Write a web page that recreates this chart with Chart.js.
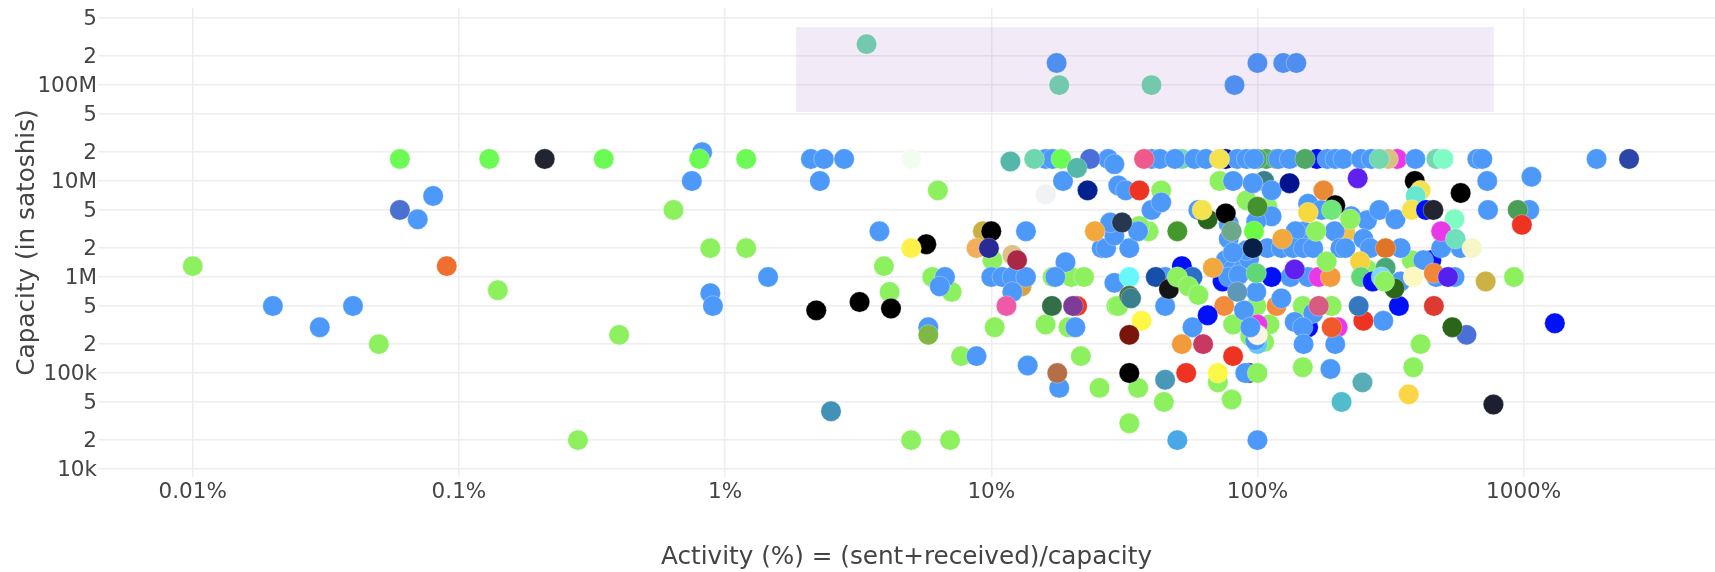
<!DOCTYPE html>
<html>
<head>
<meta charset="utf-8">
<title>Activity vs capacity</title>
<script src="https://cdn.jsdelivr.net/npm/chart.js@4/dist/chart.umd.min.js"></script>
<style>
  html, body { margin: 0; padding: 0; background: #fff; }
  canvas { display: block; }
</style>
</head>
<body>
<canvas id="chartCanais" width="1715" height="572"></canvas>
<script>
// ===== DATA =====
const xTickValues = [0.01, 0.1, 1, 10, 100, 1000];
const xTickLabels = ['0.01%', '0.1%', '1%', '10%', '100%', '1000%'];
const yTickValues = [1e4, 2e4, 5e4, 1e5, 2e5, 5e5, 1e6, 2e6, 5e6, 1e7, 2e7, 5e7, 1e8, 2e8, 5e8];
const yTickLabels = ['10k', '2', '5', '100k', '2', '5', '1M', '2', '5', '10M', '2', '5', '100M', '2', '5'];

const shadeActivity = [1.85, 773];
const shadeCapacity = [5.24e7, 4.02e8];

const greenActivity = [0.01, 0.14, 0.05, 0.28, 0.4, 0.64, 0.88, 1.2, 6.3, 3.95, 4.15, 6, 7.1, 10.1, 10.3, 7.7, 21.7, 25.5, 5, 7, 17, 20, 22.3, 16, 19.5, 29.5, 39, 36, 43.5, 72, 91, 109, 30, 81, 111, 94, 106, 99, 148, 190, 148, 71, 80, 35.6, 44.5, 33, 410, 385, 380, 920, 258];
const greenCapacity = [1.3e6, 7.3e5, 2e5, 2e4, 2.5e5, 5e6, 2e6, 2e6, 8e6, 1.3e6, 7e5, 1e6, 7e5, 1.5e6, 3e5, 1.5e5, 1.5e5, 7e4, 2e4, 2e4, 1e6, 1e6, 1e6, 3.2e5, 3e5, 5e5, 3e6, 3.4e6, 8e6, 1e7, 6.3e6, 5.4e6, 5e5, 3.2e5, 3.2e5, 2.4e5, 2.1e5, 5e5, 5e5, 5e5, 1.15e5, 8e4, 5.3e4, 7e4, 5e4, 3e4, 2e5, 1.15e5, 1.5e6, 1e6, 1.2e6];

// pontos que ficam atrás dos azuis
const backActivity = [52, 76, 108, 100, 118, 167, 335, 450, 13, 106, 96, 214, 52, 74, 57, 75, 100, 98, 100, 100, 118, 155, 200, 93];
const backCapacity = [1.7e7, 1.7e7, 1.7e7, 1.7e7, 1.7e7, 1.7e7, 1.7e7, 1.5e6, 8e5, 1e7, 9.5e6, 2.9e6, 1.3e6, 9e5, 1e6, 5e5, 2e5, 2.2e5, 3.2e5, 2.5e5, 5e5, 3e5, 3e5, 1e5];
const backColor = ['#73d8ae', '#03128f', '#4fa866', '#4fa866', '#4fa866', '#0010f8', '#ea38e8', '#0010f8', '#d8a040', '#37808c', '#ea8a35', '#f2c040', '#0010f8', '#0010f8', '#2a70c8', '#f28c3c', '#60c8f8', '#4d99fa', '#ea38e8', '#fdf4e6', '#f28c3c', '#0010f8', '#ea38e8', '#1c1f30'];

const blueActivity = [0.02, 0.03, 0.04, 0.07, 0.08, 0.88, 0.9, 1.45, 0.75, 0.82, 2.1, 2.35, 2.8, 2.27, 16, 17, 18.6, 27.5, 29, 40, 43, 49, 58, 64, 84, 91, 97, 120, 132, 183, 196, 210, 245, 268, 392, 670, 700, 1880, 730, 1070, 735, 1050, 580, 490, 345, 420, 470, 550, 3.8, 6.7, 6.4, 5.8, 13.5, 10, 11, 12, 13.5, 12, 8.8, 13.7, 18, 19, 17.4, 20.7, 26, 29, 27, 33, 29, 35.6, 28, 60, 40, 43.5, 30, 32, 81, 96, 113, 155, 174, 225, 258, 287, 330, 150, 195, 139, 250, 265, 345, 113, 99, 78, 78, 109, 123, 136, 149, 162, 205, 214, 133, 155, 76, 86, 81, 88, 78, 85, 93, 91, 81, 45, 45, 99, 89, 57, 94, 123, 162, 138, 148, 297, 149, 196, 188, 90, 100];
const blueCapacity = [5e5, 3e5, 5e5, 4e6, 7e6, 6.8e5, 5e5, 1e6, 1e7, 2e7, 1.7e7, 1.7e7, 1.7e7, 1e7, 1.7e7, 1.7e7, 1e7, 1.7e7, 1.5e7, 1.7e7, 1.7e7, 1.7e7, 1.7e7, 1.7e7, 1.7e7, 1.7e7, 1.7e7, 1.7e7, 1.7e7, 1.7e7, 1.7e7, 1.7e7, 1.7e7, 1.7e7, 1.7e7, 1.7e7, 1.7e7, 1.7e7, 1e7, 1.11e7, 5e6, 5e6, 2e6, 2e6, 2e6, 1.5e6, 1e6, 1e6, 3e6, 1e6, 8e5, 3e5, 3e6, 1e6, 1e6, 1e6, 1e6, 7e5, 1.5e5, 1.2e5, 7e4, 1.43e6, 1e6, 3e5, 2e6, 8.7e5, 2e6, 2e6, 2.7e6, 3e6, 3.7e6, 5e6, 5e6, 6e6, 9e6, 8e6, 1e7, 9.5e6, 8e6, 5.8e6, 5e6, 4.3e6, 3.9e6, 5e6, 4e6, 3e6, 3e6, 3e6, 2.5e6, 2e6, 9e5, 4.3e6, 3.8e6, 3.6e6, 2.5e6, 2e6, 2e6, 2e6, 2e6, 2e6, 2e6, 2e6, 1e6, 1e6, 1.5e6, 1.6e6, 1.2e6, 1.2e6, 1e6, 1.05e6, 1.55e6, 1.9e6, 1.8e6, 5e5, 1e6, 7e5, 4.5e5, 3e5, 3e5, 6e5, 4.2e5, 3.4e5, 3e5, 3.5e5, 2e5, 2e5, 1.1e5, 1e5, 2e4];

const otherActivity = [0.06, 0.13, 0.35, 0.8, 1.2, 18.3, 97, 0.21, 0.06, 0.09, 5, 11.8, 14.5, 23.5, 21, 23, 16, 3.4, 17.6, 18, 40, 82, 100, 125, 140, 37.5, 72, 151, 310, 287, 470, 500, 2490, 390, 410, 393, 380, 430, 458, 580, 950, 985, 550, 490, 555, 640, 385, 460, 520, 720, 340, 460, 610, 540, 1310, 370, 770, 5.7, 5, 2.2, 3.2, 4.2, 5.8, 9.3, 10, 8.8, 9.8, 12, 12.5, 11.4, 17.7, 2.5, 16.9, 21, 20.3, 24.5, 31, 50, 65, 76, 62, 36, 132, 177, 238, 196, 190, 155, 124, 303, 96, 100, 80, 243, 303, 138, 170, 188, 113, 68, 99, 41.5, 33, 33, 33.5, 46.5, 84, 65, 36.7, 33, 170, 190, 250, 240, 248, 207, 81, 71, 52, 62.5, 54, 45, 33, 50, 245, 271, 292, 327, 100, 223, 166, 182, 50, 55, 60, 300];
const otherCapacity = [1.7e7, 1.7e7, 1.7e7, 1.7e7, 1.7e7, 1.7e7, 3e6, 1.7e7, 5e6, 1.3e6, 1.7e7, 1.6e7, 1.7e7, 1.7e7, 1.37e7, 8e6, 7.3e6, 2.67e8, 1.7e8, 1e8, 1e8, 1e8, 1.7e8, 1.7e8, 1.7e8, 1.7e7, 1.7e7, 1.7e7, 1.7e7, 1.7e7, 1.7e7, 1.7e7, 1.7e7, 1e7, 8e6, 7e6, 5e6, 5e6, 5e6, 7.5e6, 5e6, 3.5e6, 4e6, 3e6, 2.5e6, 2e6, 1e6, 1.1e6, 1e6, 9e5, 5e5, 5e5, 2.5e5, 3e5, 3.3e5, 6e4, 4.7e4, 2.2e6, 2e6, 4.5e5, 5.5e5, 4.7e5, 2.5e5, 3e6, 3e6, 2e6, 2e6, 1.7e6, 1.5e6, 5e5, 1e5, 4e4, 5e5, 5e5, 5e5, 3e6, 3.7e6, 3e6, 4e6, 4.6e6, 5e6, 8e6, 9.5e6, 8e6, 1.07e7, 5.6e6, 5e6, 4.7e6, 2.5e6, 2e6, 2e6, 5.4e6, 3e6, 1.45e6, 1.25e6, 1.2e6, 1e6, 1e6, 1e6, 1.25e6, 1.1e6, 1e6, 1e6, 6.4e5, 6e5, 7.5e5, 7e5, 4e5, 3.5e5, 2.5e5, 5e5, 3e5, 3.5e5, 5e5, 8e4, 5e4, 1.5e5, 1e5, 2e5, 2e5, 1e5, 8.5e4, 1e5, 2e4, 1e6, 9e5, 1e6, 7.6e5, 1e5, 4e6, 3e6, 1.45e6, 1e6, 8e5, 6.5e5, 9e5];
const otherColor = ['#6cfa55', '#6cfa55', '#6cfa55', '#6cfa55', '#6cfa55', '#6cfa55', '#6cfa45', '#22252f', '#4a70d0', '#ef6f2e', '#f2fdf0', '#53b8a8', '#6fd6ae', '#4a6fd8', '#53b8a8', '#03228f', '#f0f2f4', '#73c8ae', '#508ff0', '#73c8ae', '#73c8ae', '#508ff0', '#508ff0', '#508ff0', '#508ff0', '#ef5a8a', '#f5e24e', '#4fa866', '#d8c080', '#73d8ae', '#73d8ae', '#7ffcc4', '#2b45a8', '#000000', '#f5e24e', '#68e8cf', '#f5e24e', '#0010f8', '#22252f', '#000000', '#4a9e56', '#ef3322', '#7ffcc4', '#ea38e8', '#6fe0bc', '#f6f6c8', '#fdf8c0', '#f0863a', '#5320f0', '#ccb145', '#0010f8', '#dd3a32', '#4a6fd8', '#2b6518', '#0010f8', '#fbd545', '#1c1f30', '#000000', '#fff04a', '#000000', '#000000', '#000000', '#7fb844', '#c9b040', '#000000', '#f2ae5a', '#2a2a96', '#dcc084', '#a82845', '#ef5aa8', '#b56f48', '#4292b8', '#336f46', '#ef3322', '#7c3c98', '#f2a83c', '#26374f', '#45992c', '#29651a', '#000000', '#f5e24e', '#ef3322', '#03128f', '#ea8a35', '#5f20f0', '#000000', '#6fe87a', '#f8d840', '#f2a83c', '#e07528', '#082048', '#45902f', '#6ea88a', '#f8d23e', '#4aa878', '#5f20f0', '#ea38e8', '#f29a3c', '#0010f8', '#f2a83c', '#60d878', '#174faa', '#66f8fa', '#4e7040', '#37808c', '#151515', '#5e98b8', '#0010f8', '#fdf845', '#7a150a', '#d85c80', '#ef5a28', '#ef3322', '#3478c0', '#58adb8', '#50bccc', '#ef3322', '#fdf845', '#f29a3c', '#c93860', '#ef3322', '#4a98b8', '#000000', '#48a8e8', '#60d878', '#0010f8', '#7cd8f8', '#2b6518', '#8cf05f', '#8cf05f', '#8cf05f', '#8cf05f', '#8cf05f', '#8cf05f', '#8cf05f', '#8cf05f'];

// ===== HELPERS =====
function pares(xs, ys) {
    return xs.map((x, i) => ({ x: x, y: ys[i] }));
}

// faixa lilás, desenhada por cima da grade e por baixo dos pontos
const faixaPlugin = {
    id: 'faixa',
    beforeDatasetsDraw(chart) {
        const { ctx, scales: { x, y } } = chart;
        const esq = x.getPixelForValue(shadeActivity[0]);
        const dir = x.getPixelForValue(shadeActivity[1]);
        const topo = y.getPixelForValue(shadeCapacity[1]);
        const base = y.getPixelForValue(shadeCapacity[0]);
        ctx.save();
        ctx.fillStyle = 'rgba(110, 30, 170, 0.09)';
        ctx.fillRect(esq, topo, dir - esq, base - topo);
        ctx.restore();
    }
};

const tickFont = { family: '"DejaVu Sans"', size: 21.5 };
const titleFont = { family: '"DejaVu Sans"', size: 24.7 };

// ===== CHART =====
// Chart.js desenha o primeiro dataset por cima, por isso a ordem é outros, azul, fundo, verde
const ctx = document.getElementById('chartCanais').getContext('2d');
new Chart(ctx, {
    type: 'scatter',
    plugins: [faixaPlugin],
    data: {
        datasets: [
            { label: 'other', data: pares(otherActivity, otherCapacity), backgroundColor: otherColor },
            { label: 'blue', data: pares(blueActivity, blueCapacity), backgroundColor: '#4d99fa' },
            { label: 'back', data: pares(backActivity, backCapacity), backgroundColor: backColor },
            { label: 'green', data: pares(greenActivity, greenCapacity), backgroundColor: '#8cf05f' }
        ]
    },
    options: {
        responsive: false,
        animation: false,
        layout: { autoPadding: false, padding: { top: 8, right: 0, bottom: 0, left: 0 } },
        elements: {
            point: { radius: 10.2, borderWidth: 0.5, borderColor: 'rgba(255, 255, 255, 0.6)' }
        },
        plugins: {
            legend: { display: false },
            tooltip: { enabled: false }
        },
        scales: {
            x: {
                type: 'logarithmic',
                min: Math.pow(10, -2.356),
                max: Math.pow(10, 3.719),
                afterBuildTicks(scale) { scale.ticks = xTickValues.map(v => ({ value: v })); },
                afterFit(scale) {
                    scale.height = 95;
                    scale.paddingLeft = 0;
                    scale.paddingRight = 0;
                },
                grid: { color: '#eeeeee', lineWidth: 1.5, drawTicks: false },
                border: { display: false },
                ticks: {
                    autoSkip: false,
                    maxRotation: 0,
                    padding: 3,
                    color: '#444',
                    font: tickFont,
                    callback: (value, i) => xTickLabels[i]
                },
                title: {
                    display: true,
                    text: 'Activity (%) = (sent+received)/capacity',
                    color: '#444',
                    font: titleFont,
                    padding: { top: 0, bottom: 0 }
                }
            },
            y: {
                type: 'logarithmic',
                min: Math.pow(10, 3.917),
                max: Math.pow(10, 8.803),
                afterBuildTicks(scale) { scale.ticks = yTickValues.map(v => ({ value: v })); },
                afterFit(scale) {
                    scale.width = 98;
                    scale.paddingTop = 0;
                    scale.paddingBottom = 0;
                },
                grid: { color: '#eeeeee', lineWidth: 1.5, drawTicks: false },
                border: { display: false },
                ticks: {
                    autoSkip: false,
                    padding: 1,
                    labelOffset: 1.5,
                    color: '#444',
                    font: tickFont,
                    callback: (value, i) => yTickLabels[i]
                },
                title: {
                    display: true,
                    text: 'Capacity (in satoshis)',
                    color: '#444',
                    font: titleFont,
                    padding: { top: 13, bottom: 0 }
                }
            }
        }
    }
});
</script>
</body>
</html>
